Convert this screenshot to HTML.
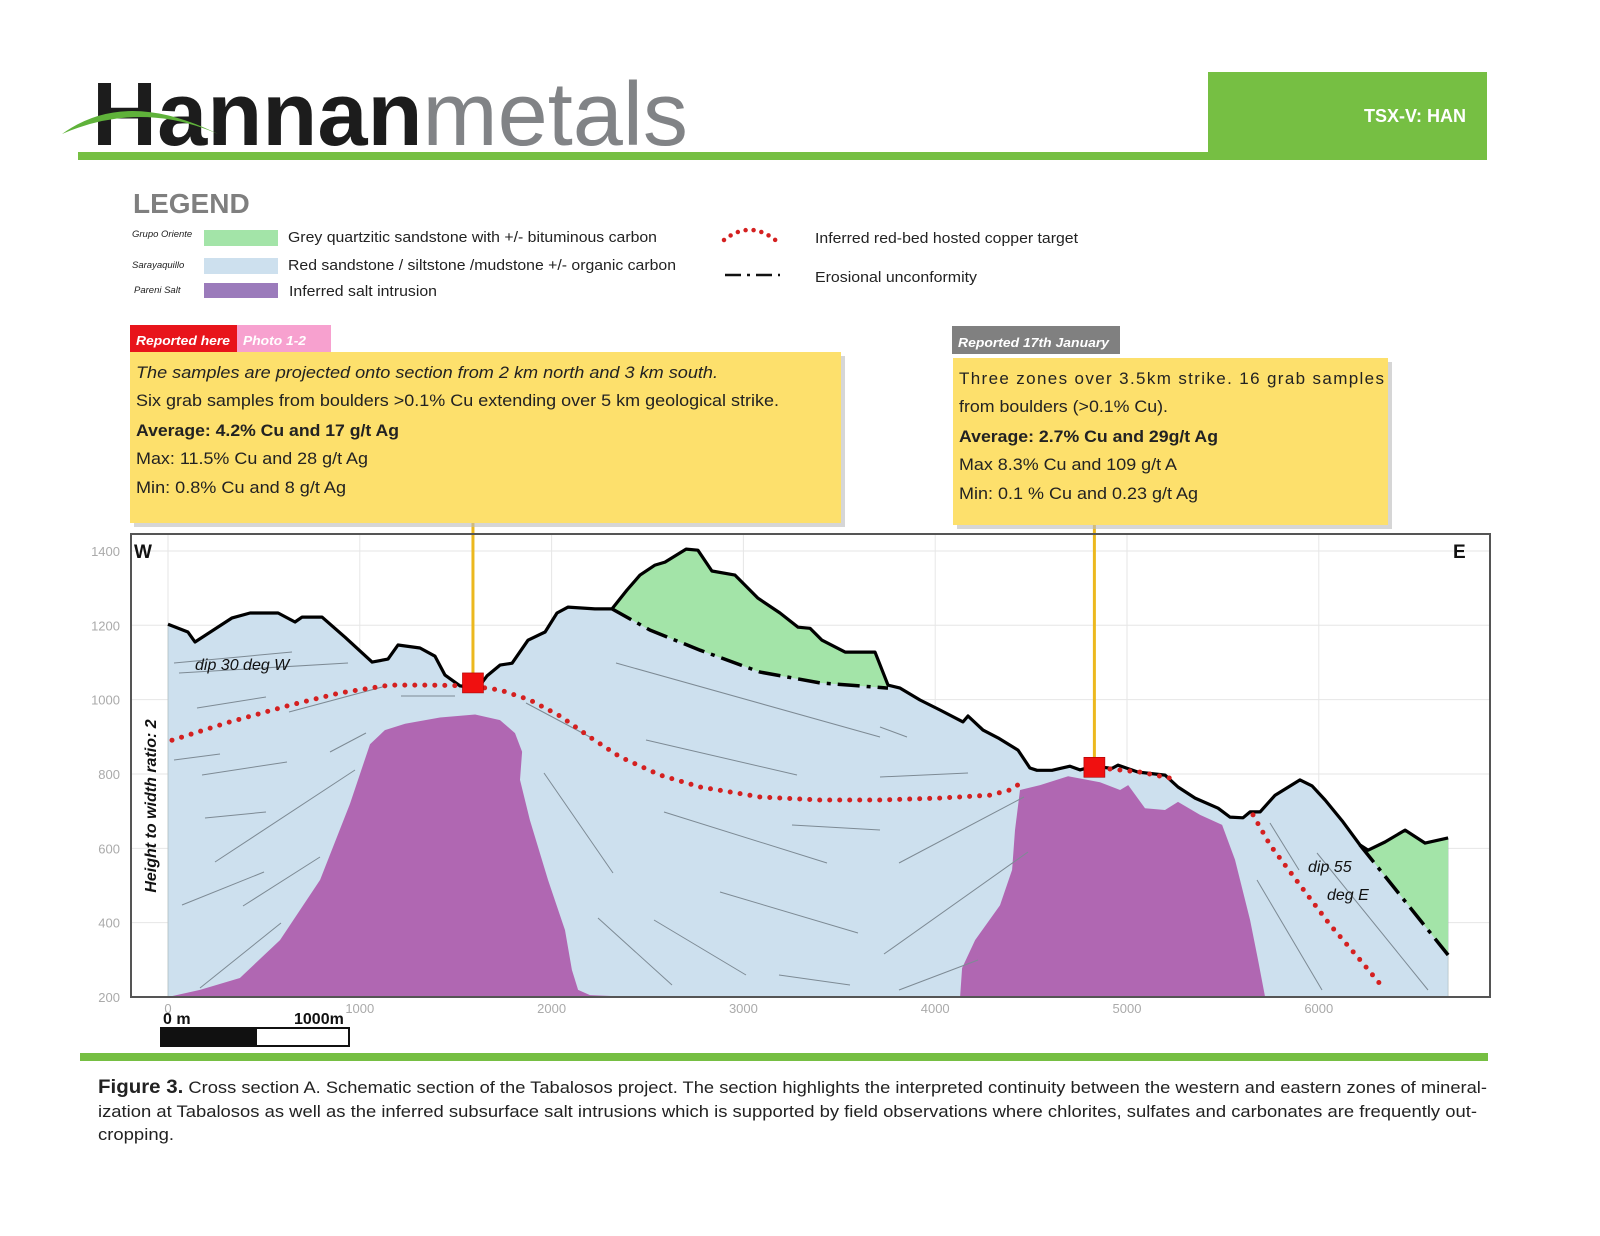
<!DOCTYPE html>
<html><head><meta charset="utf-8"><style>
html,body{margin:0;padding:0;background:#fff}
svg{display:block}
text{font-family:"Liberation Sans",sans-serif}
</style></head><body>
<svg id="page" width="1600" height="1236" viewBox="0 0 1600 1236" xmlns="http://www.w3.org/2000/svg">
<!-- header -->
<g>
<rect x="78" y="152" width="1409" height="8" fill="#76bf43"/>
<rect x="1208" y="72" width="279" height="88" fill="#76bf43"/>
<text x="1415" y="122" font-size="18" font-weight="bold" fill="#fff" text-anchor="middle">TSX-V: HAN</text>
<text x="92" y="145" font-size="90" textLength="596" lengthAdjust="spacingAndGlyphs"><tspan font-weight="bold" fill="#1c1c1c">Hannan</tspan><tspan fill="#818386">metals</tspan></text>
<path d="M62,134 Q125,88 218,134 Q140,100 62,134Z" fill="#5fb23a"/>
</g>
<!-- legend -->
<g>
<text x="133" y="213" font-size="28" font-weight="bold" fill="#7f7f7f">LEGEND</text>
<text x="132" y="237" font-size="9.5" font-style="italic" fill="#222">Grupo Oriente</text>
<text x="132" y="268" font-size="9.5" font-style="italic" fill="#222">Sarayaquillo</text>
<text x="134" y="293" font-size="9.5" font-style="italic" fill="#222">Pareni Salt</text>
<rect x="204" y="230" width="74" height="16" fill="#a3e4a8"/>
<rect x="204" y="258" width="74" height="16" fill="#cde0ee"/>
<rect x="204" y="283" width="74" height="15" fill="#9b7bbb"/>
<text x="288" y="242" font-size="15" fill="#222" textLength="369" lengthAdjust="spacingAndGlyphs">Grey quartzitic sandstone with +/- bituminous carbon</text>
<text x="288" y="270" font-size="15" fill="#222" textLength="388" lengthAdjust="spacingAndGlyphs">Red sandstone / siltstone /mudstone +/- organic carbon</text>
<text x="289" y="296" font-size="15" fill="#222" textLength="148" lengthAdjust="spacingAndGlyphs">Inferred salt intrusion</text>
<path d="M724,240 Q752,218 780,244" fill="none" stroke="#d42020" stroke-width="4.5" stroke-linecap="round" stroke-dasharray="0 8"/>
<path d="M725,275 H780" fill="none" stroke="#111" stroke-width="2.5" stroke-dasharray="16 6 3 6"/>
<text x="815" y="243" font-size="15" fill="#222" textLength="263" lengthAdjust="spacingAndGlyphs">Inferred red-bed hosted copper target</text>
<text x="815" y="282" font-size="15" fill="#222" textLength="162" lengthAdjust="spacingAndGlyphs">Erosional unconformity</text>
</g>
<!-- plot region -->
<g id="plot"></g>
<!-- callouts -->
<g>
<rect x="130" y="325" width="107" height="27" fill="#e8141b"/>
<text x="136" y="345" font-size="13" font-style="italic" font-weight="bold" fill="#fff" textLength="94" lengthAdjust="spacingAndGlyphs">Reported here</text>
<rect x="237" y="325" width="94" height="27" fill="#f7a1cf"/>
<text x="243" y="345" font-size="13" font-style="italic" font-weight="bold" fill="#fff" textLength="63" lengthAdjust="spacingAndGlyphs">Photo 1-2</text>
<rect x="134" y="356" width="711" height="171" fill="#bbb" opacity="0.6"/>
<rect x="130" y="352" width="711" height="171" fill="#fde06c"/>
<text x="136" y="378" font-size="17" font-style="italic" fill="#222" textLength="582" lengthAdjust="spacingAndGlyphs">The samples are projected onto section from 2 km north and 3 km south.</text>
<text x="136" y="406" font-size="17" fill="#222" textLength="643" lengthAdjust="spacingAndGlyphs">Six grab samples from boulders &gt;0.1% Cu extending over  5 km geological strike.</text>
<text x="136" y="436" font-size="17" font-weight="bold" fill="#222" textLength="263" lengthAdjust="spacingAndGlyphs">Average:  4.2% Cu and 17 g/t Ag</text>
<text x="136" y="464" font-size="17" fill="#222" textLength="232" lengthAdjust="spacingAndGlyphs">Max: 11.5% Cu and 28 g/t Ag</text>
<text x="136" y="493" font-size="17" fill="#222" textLength="210" lengthAdjust="spacingAndGlyphs">Min: 0.8% Cu and 8 g/t Ag</text>
</g>
<g>
<rect x="952" y="326" width="168" height="28" fill="#808080"/>
<text x="958" y="347" font-size="13" font-style="italic" font-weight="bold" fill="#fff" textLength="151" lengthAdjust="spacingAndGlyphs">Reported 17th January</text>
<rect x="957" y="362" width="435" height="167" fill="#bbb" opacity="0.6"/>
<rect x="953" y="358" width="435" height="167" fill="#fde06c"/>
<text x="959" y="384" font-size="17" fill="#222" textLength="425" lengthAdjust="spacing">Three zones over 3.5km strike. 16 grab samples</text>
<text x="959" y="412" font-size="17" fill="#222" textLength="209" lengthAdjust="spacingAndGlyphs">from boulders (&gt;0.1% Cu).</text>
<text x="959" y="442" font-size="17" font-weight="bold" fill="#222" textLength="259" lengthAdjust="spacingAndGlyphs">Average:  2.7% Cu and 29g/t Ag</text>
<text x="959" y="470" font-size="17" fill="#222" textLength="218" lengthAdjust="spacingAndGlyphs">Max 8.3% Cu and 109 g/t A</text>
<text x="959" y="499" font-size="17" fill="#222" textLength="239" lengthAdjust="spacingAndGlyphs">Min: 0.1 % Cu and 0.23 g/t Ag</text>
</g>
<!-- scale bar -->
<g>
<text x="163" y="1024" font-size="16" font-weight="bold" fill="#111">0 m</text>
<text x="294" y="1024" font-size="16" font-weight="bold" fill="#111">1000m</text>
<rect x="161" y="1028" width="188" height="18" fill="#fff" stroke="#111" stroke-width="2"/>
<rect x="161" y="1028" width="96" height="18" fill="#111"/>
</g>
<rect x="80" y="1053" width="1408" height="8" fill="#76bf43"/>
<g fill="#222">
<text x="98" y="1093" font-size="17" textLength="1389" lengthAdjust="spacingAndGlyphs"><tspan font-weight="bold" font-size="19">Figure 3.</tspan>  Cross section A. Schematic section of the Tabalosos project. The section highlights the interpreted continuity between the western and eastern zones of mineral-</text>
<text x="98" y="1117" font-size="17" textLength="1379" lengthAdjust="spacingAndGlyphs">ization   at Tabalosos as well as the inferred subsurface salt intrusions which is  supported by field observations where chlorites, sulfates and carbonates are frequently out-</text>
<text x="98" y="1140" font-size="17" textLength="76" lengthAdjust="spacingAndGlyphs">cropping.</text>
</g>
</svg>
<script>
// ---- data (metres, elevation m) ----
const xTicks = [0,1000,2000,3000,4000,5000,6000];
const yTicks = [200,400,600,800,1000,1200,1400];
const terrainX = [0,104,141,334,428,574,662,699,803,923,1064,1147,1199,1314,1392,1444,1523,1616,1663,1731,1794,1877,1966,2028,2086,2226,2315,2393,2461,2539,2591,2701,2763,2836,2956,3076,3191,3285,3347,3410,3530,3686,3754,3817,3921,4025,4145,4171,4249,4328,4432,4494,4531,4609,4703,4755,4823,4922,4953,5058,5198,5266,5355,5475,5537,5605,5642,5694,5772,5902,5965,6033,6126,6215,6257,6345,6450,6554,6674];
const terrainZ = [1203,1182,1155,1220,1233,1233,1209,1222,1222,1168,1101,1109,1147,1139,1117,1066,1037,1031,1064,1093,1098,1160,1182,1233,1249,1244,1244,1295,1335,1362,1370,1405,1402,1346,1335,1273,1233,1195,1192,1160,1128,1128,1039,1031,999,972,940,956,918,897,864,816,810,810,821,811,821,815,824,805,797,765,735,708,684,682,698,698,743,784,768,730,671,609,595,617,649,614,628];
const unconfX = [2315,2513,2774,3087,3400,3754];
const unconfZ = [1244,1187,1133,1074,1045,1031];
const unconf2X = [6215,6674];
const unconf2Z = [609,313];
const salt1X = [0,167,375,584,793,949,1053,1131,1236,1418,1601,1731,1809,1846,1835,1887,1981,2070,2106,2138,2200,2435];
const salt1Z = [200,219,251,353,515,720,880,918,935,952,960,945,910,860,784,676,515,380,273,219,205,200];
const salt2X = [4130,4140,4208,4338,4401,4416,4442,4547,4693,4859,4964,5006,5094,5198,5266,5381,5496,5563,5642,5683,5720];
const salt2Z = [200,278,353,447,542,649,757,770,794,778,757,770,708,703,725,690,663,569,407,300,200];
const target1X = [21,323,636,897,1157,1366,1575,1731,1887,2044,2200,2357,2565,2774,3087,3400,3712,4025,4286,4390,4453];
const target1Z = [891,940,985,1018,1039,1039,1037,1026,999,956,899,846,797,765,738,730,730,735,743,757,778];
const target2X = [4859,5068,5224];
const target2Z = [816,805,789];
const target3X = [5657,5746,5902,6059,6215,6345];
const target3Z = [690,609,501,394,300,219];
const sampleX = [1590,4830];
const sampleZ = [1045,818];
// ---- axes ----
const X0=168, XS=0.1918, Y0=997, YS=0.3717;
const sx = v => X0 + v*XS;
const sy = v => Y0 - (v-200)*YS;
const NS="http://www.w3.org/2000/svg";
const plot=document.getElementById('plot');
function mk(tag,attrs,parent){const e=document.createElementNS(NS,tag);for(const k in attrs)e.setAttribute(k,attrs[k]);(parent||plot).appendChild(e);return e;}
function pts(xs,zs){return xs.map((x,i)=>sx(x).toFixed(1)+','+sy(zs[i]).toFixed(1));}
let bg=mk('rect',{x:131,y:534,width:1359,height:463,fill:'#fff'});


xTicks.forEach(t=>{
  let l=mk('line',{x1:sx(t),x2:sx(t),y1:534,y2:997,stroke:'#e6e6e6','stroke-width':1});
  
  
  let tx=mk('text',{x:sx(t),y:1013,'font-size':13,fill:'#aaa','text-anchor':'middle'});
  tx.textContent=t;
  
  
});
yTicks.forEach(t=>{
  let l=mk('line',{x1:131,x2:1490,y1:sy(t),y2:sy(t),stroke:'#e6e6e6','stroke-width':1});
  
  
  let tx=mk('text',{x:120,y:sy(t)+5,'font-size':13,fill:'#aaa','text-anchor':'end'});
  tx.textContent=t;
  
  
});
let body=mk('polygon',{points:pts(terrainX,terrainZ).concat([sx(6674)+','+sy(200),sx(0)+','+sy(200)]).join(' '),fill:'#cde0ee',stroke:'#9aa',"stroke-width":0.5});


const i0=terrainX.indexOf(2315), i1=terrainX.indexOf(3754);
let g1pts=pts(terrainX.slice(i0,i1+1),terrainZ.slice(i0,i1+1)).concat(pts(unconfX,unconfZ).reverse());
let g1=mk('polygon',{points:g1pts.join(' '),fill:'#a3e4a8'});


const j0=terrainX.indexOf(6215);
let g2pts=pts(terrainX.slice(j0),terrainZ.slice(j0)).concat(pts(unconf2X,unconf2Z).reverse());
let g2=mk('polygon',{points:g2pts.join(' '),fill:'#a3e4a8'});


let s1=mk('polygon',{points:pts(salt1X,salt1Z).join(' '),fill:'#b067b2'});


let s2=mk('polygon',{points:pts(salt2X,salt2Z).join(' '),fill:'#b067b2'});


const strata=[[174,663,292,652],[179,673,348,663],[197,708,266,697],[289,712,386,686],[174,760,220,754],[202,775,287,762],[330,752,366,733],[205,818,266,812],[215,862,355,770],[182,905,264,872],[243,906,320,857],[200,988,281,923],[401,696,455,696],[616,663,880,737],[646,740,797,775],[526,703,590,737],[544,773,613,873],[664,812,827,863],[792,825,880,830],[720,892,858,933],[598,918,672,985],[654,920,746,975],[779,975,850,985],[880,727,907,737],[880,777,968,773],[899,863,1024,797],[884,954,1028,852],[899,990,978,960],[1270,823,1299,870],[1257,880,1322,990],[1317,853,1428,990]];
strata.forEach(s=>{
  let l=mk('line',{x1:s[0],y1:s[1],x2:s[2],y2:s[3],stroke:'#7d8a94','stroke-width':1});
  
  
});
let tl=mk('polyline',{points:pts(terrainX,terrainZ).join(' '),fill:'none',stroke:'#000','stroke-width':3.2,'stroke-linejoin':'round'});


let u1=mk('polyline',{points:pts(unconfX,unconfZ).join(' '),fill:'none',stroke:'#000','stroke-width':3.5,'stroke-dasharray':'22 7 4 7'});


let u2=mk('polyline',{points:pts(unconf2X,unconf2Z).join(' '),fill:'none',stroke:'#000','stroke-width':3.5,'stroke-dasharray':'22 7 4 7'});


[[target1X,target1Z],[target2X,target2Z],[target3X,target3Z]].forEach(tg=>{
  let p=mk('polyline',{points:pts(tg[0],tg[1]).join(' '),fill:'none',stroke:'#d42020','stroke-width':5,'stroke-linecap':'round','stroke-dasharray':'0 10'});
  
  
});
const stemTop=[523,525];
sampleX.forEach((x,i)=>{
  let st=mk('line',{x1:sx(x),x2:sx(x),y1:stemTop[i],y2:sy(sampleZ[i]),stroke:'#ecb81e','stroke-width':3});
  
  
  let sq=mk('rect',{x:sx(x)-10.5,y:sy(sampleZ[i])-10,width:21,height:20,fill:'#f01010',stroke:'#a00','stroke-width':0.6});
  
  
});
let fr=mk('rect',{x:131,y:534,width:1359,height:463,fill:'none',stroke:'#555','stroke-width':2});


function lab(txt,attrs,name){let t=mk('text',attrs);t.textContent=txt;
  
  
  return t;}
lab('W',{x:134,y:558,'font-size':19,'font-weight':'bold',fill:'#111'},'west-label');
lab('E',{x:1453,y:558,'font-size':19,'font-weight':'bold',fill:'#111'},'east-label');
lab('dip 30 deg W',{x:195,y:670,'font-size':16,'font-style':'italic',fill:'#111'},'dip-label-west');
lab('dip 55',{x:1308,y:872,'font-size':16,'font-style':'italic',fill:'#111'},'dip-label-east-1');
lab('deg E',{x:1327,y:900,'font-size':16,'font-style':'italic',fill:'#111'},'dip-label-east-2');
lab('Height to width ratio: 2',{x:0,y:0,'font-size':16,'font-style':'italic','font-weight':'bold',fill:'#111','text-anchor':'middle',transform:'translate(156,806) rotate(-90)'},'y-axis-title');
</script>
</body></html>
